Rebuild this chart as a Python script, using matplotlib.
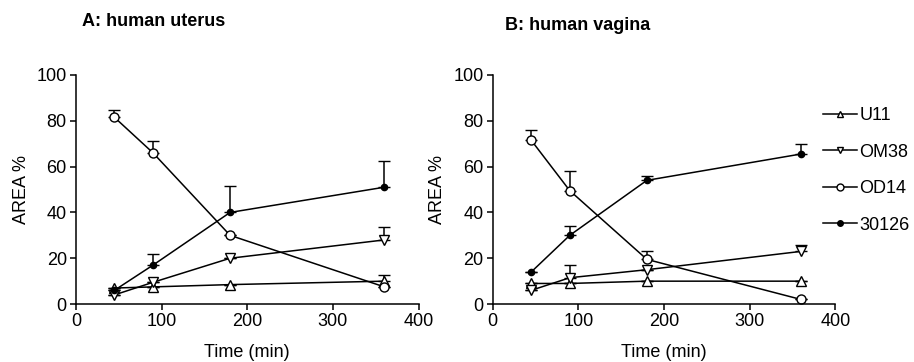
import matplotlib
matplotlib.use("Agg")
import matplotlib.pyplot as plt
from matplotlib.lines import Line2D

plt.rcParams['font.family'] = ['Liberation Sans', 'DejaVu Sans']

time = [45, 90, 180, 360]
series = ["U11", "OM38", "OD14", "30126"]

# Panel A: human uterus
a_u11 = [7, 7.5, 8.5, 10]
a_u11_err = [0, 0, 0, 2.5]
a_om38 = [4, 9.5, 20, 28]
a_om38_err = [0, 0, 0, 5.5]
a_od14 = [81.5, 66, 30, 7.5]
a_od14_err = [3, 5, 0, 0]
a_30126 = [6, 17, 40, 51]
a_30126_err = [0, 5, 11.5, 11.5]

# Panel B: human vagina
b_u11 = [9, 9, 10, 10]
b_u11_err = [0, 0, 0, 0]
b_om38 = [6, 11.5, 15, 23]
b_om38_err = [0, 5.5, 0, 3]
b_od14 = [71.5, 49.5, 19.5, 2]
b_od14_err = [4.5, 8.5, 3.5, 0]
b_30126 = [14, 30, 54, 65.5]
b_30126_err = [0, 4, 2, 4.5]

titles = ["A: human uterus", "B: human vagina"]
xticks = [0, 100, 200, 300, 400]
yticks = [0, 20, 40, 60, 80, 100]

styles = {
    "U11": dict(marker="^", mfc="white"),
    "OM38": dict(marker="v", mfc="white"),
    "OD14": dict(marker="o", mfc="white"),
    "30126": dict(marker="o", mfc="black"),
}
msizes = {"U11": 6.5, "OM38": 6.5, "OD14": 6.5, "30126": 4.5}
leg_msizes = {"U11": 5, "OM38": 5, "OD14": 5, "30126": 4}

FS = 13

fig = plt.figure(figsize=(9.14, 3.62), dpi=100)
axA = fig.add_axes([0.083, 0.160, 0.375, 0.633])
axB = fig.add_axes([0.539, 0.160, 0.375, 0.633])

panels = [
    (axA, {"U11": (a_u11, a_u11_err), "OM38": (a_om38, a_om38_err),
           "OD14": (a_od14, a_od14_err), "30126": (a_30126, a_30126_err)}),
    (axB, {"U11": (b_u11, b_u11_err), "OM38": (b_om38, b_om38_err),
           "OD14": (b_od14, b_od14_err), "30126": (b_30126, b_30126_err)}),
]

for ax, data in panels:
    for name in ["U11", "OM38", "30126", "OD14"]:
        vals, errs = data[name]
        ax.errorbar(time, vals, yerr=[[0] * len(errs), errs], color="black",
                    lw=1.1, elinewidth=1.1, capsize=4, capthick=1.1,
                    marker=styles[name]["marker"], mfc=styles[name]["mfc"],
                    mec="black", mew=1.0, ms=msizes[name], clip_on=False)
    ax.set_xlim(0, 400)
    ax.set_ylim(0, 100)
    ax.set_xticks(xticks)
    ax.set_yticks(yticks)
    for s in ["top", "right"]:
        ax.spines[s].set_visible(False)
    for s in ["left", "bottom"]:
        ax.spines[s].set_linewidth(1.1)
    ax.tick_params(direction="out", length=4, width=1.1, labelsize=FS, pad=2.5)
    ax.set_xlabel("Time (min)", fontsize=FS, labelpad=10)
    ax.set_ylabel("AREA %", fontsize=FS, labelpad=5)

fig.text(82 / 914, 1 - 21 / 362, titles[0], fontsize=FS, fontweight="bold", ha="left", va="center")
fig.text(505 / 914, 1 - 26 / 362, titles[1], fontsize=FS, fontweight="bold", ha="left", va="center")

handles = [Line2D([0], [0], color="black", lw=1.1, marker=styles[n]["marker"],
                  mfc=styles[n]["mfc"], mec="black", ms=leg_msizes[n]) for n in series]
fig.legend(handles, series, loc="center left", bbox_to_anchor=(823 / 914, 1 - 170.5 / 362),
           frameon=False, fontsize=FS, handlelength=1.9, handletextpad=0.12,
           labelspacing=1.08, borderpad=0, borderaxespad=0)

fig.savefig("out.png", dpi=100)
